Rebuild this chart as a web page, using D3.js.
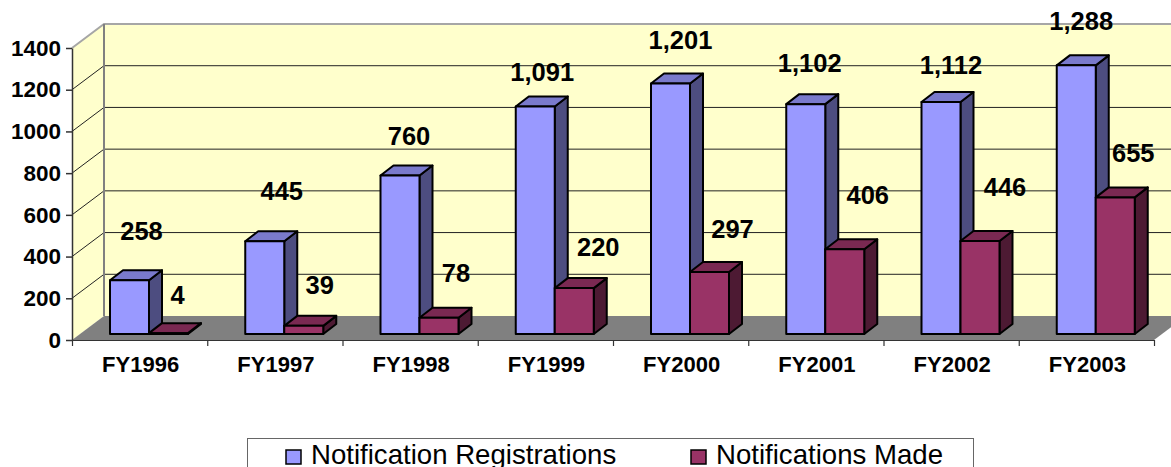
<!DOCTYPE html>
<html>
<head>
<meta charset="utf-8">
<script src="https://cdnjs.cloudflare.com/ajax/libs/d3/7.8.5/d3.min.js"></script>
<style>
  html, body { margin: 0; padding: 0; background: #fff; overflow: hidden; }
  text { font-family: "Liberation Sans", Arial, sans-serif; fill: #000; }
  .tick text, .valueLabel { font-weight: bold; }
</style>
</head>
<body>
<div id="chart"></div>
<script>
// chart values
var years = ["FY1996", "FY1997", "FY1998", "FY1999", "FY2000", "FY2001", "FY2002", "FY2003"];
var registrations = [258, 445, 760, 1091, 1201, 1102, 1112, 1288];
var notificationsMade = [4, 39, 78, 220, 297, 406, 446, 655];
var yTicks = [0, 200, 400, 600, 800, 1000, 1200, 1400];
var seriesNames = ["Notification Registrations", "Notifications Made"];

// hand placement of the value labels, [dx, dy] from the top of each bar
var registrationNudge = [[12, -49], [17, -50], [9, -39], [7, -34], [10, -43], [4, -41], [10, -37], [5, -44]];
var madeNudge = [[9, -38], [16, -41], [17, -45], [24, -41], [23, -43], [23, -54], [25, -54], [18, -44]];

var svgWidth = 1171;
var svgHeight = 467;

// front edge of the plot and how far the back wall is pushed away
var plot = { left: 72, right: 1154, top: 48, bottom: 340 };
var depth = { x: 32, y: -24 };
var barDepth = { x: 13, y: -10 };

var svg = d3.select("#chart")
  .append("svg")
  .attr("width", svgWidth)
  .attr("height", svgHeight)
  .style("display", "block");

var yScale = d3.scaleLinear().domain([0, 1400]).range([plot.bottom, plot.top]);
var xScale = d3.scaleBand().domain(years).range([plot.left, plot.right]);
var serieScale = d3.scaleBand().domain(seriesNames).range([38, 116]);

function pts(list) {
  return list.map(p => p.join(",")).join(" ");
}

// walls and floor
svg.append("polygon")
  .attr("points", pts([[plot.left, plot.top], [plot.left + depth.x, plot.top + depth.y],
    [plot.right + depth.x, plot.top + depth.y], [plot.right + depth.x, plot.bottom + depth.y],
    [plot.left + depth.x, plot.bottom + depth.y], [plot.left, plot.bottom]]))
  .attr("fill", "#ffffcc");

svg.append("polygon")
  .attr("points", pts([[plot.left, plot.bottom], [plot.right, plot.bottom],
    [plot.right + depth.x, plot.bottom + depth.y], [plot.left + depth.x, plot.bottom + depth.y]]))
  .attr("fill", "#808080");

// gridlines, along the side wall then across the back wall
yTicks.slice(1).forEach(function(t) {
  var y = yScale(t);
  var isTop = t === 1400;
  svg.append("polyline")
    .attr("points", pts([[plot.left, y], [plot.left + depth.x, y + depth.y], [plot.right + depth.x, y + depth.y]]))
    .attr("fill", "none")
    .attr("stroke", isTop ? "#a6a6a6" : "#222")
    .attr("stroke-width", isTop ? 2 : 1);
});

svg.append("line")
  .attr("x1", plot.left + depth.x).attr("x2", plot.left + depth.x)
  .attr("y1", plot.top + depth.y).attr("y2", plot.bottom + depth.y)
  .attr("stroke", "#808080")
  .attr("stroke-width", 2);

// 3d bars
function drawBar(g, x, w, value, front, top, side) {
  var y0 = yScale(0) - 6;
  var y1 = y0 - (yScale(0) - yScale(value));
  var dx = barDepth.x;
  var dy = barDepth.y;
  g.append("polygon")
    .attr("points", pts([[x + w, y1], [x + w + dx, y1 + dy], [x + w + dx, y0 + dy], [x + w, y0]]))
    .attr("fill", side);
  g.append("polygon")
    .attr("points", pts([[x, y1], [x + dx, y1 + dy], [x + w + dx, y1 + dy], [x + w, y1]]))
    .attr("fill", top);
  g.append("rect")
    .attr("x", x).attr("y", y1)
    .attr("width", w).attr("height", y0 - y1)
    .attr("fill", front);
  return y1;
}

var barsGroup = svg.append("g")
  .attr("stroke", "#000")
  .attr("stroke-width", 2)
  .attr("stroke-linejoin", "round");

var labelsGroup = svg.append("g");

years.forEach(function(year, i) {
  var band = xScale(year);
  var w = serieScale.bandwidth();
  var xBlue = band + serieScale(seriesNames[0]);
  var xRed = band + serieScale(seriesNames[1]);
  var topBlue = drawBar(barsGroup, xBlue, w, registrations[i], "#9999ff", "#7a7acc", "#4d4d80");
  var topRed = drawBar(barsGroup, xRed, w, notificationsMade[i], "#993366", "#7a2952", "#4d1a33");

  labelsGroup.append("text")
    .attr("class", "valueLabel")
    .attr("x", xBlue + w / 2 + registrationNudge[i][0])
    .attr("y", topBlue + registrationNudge[i][1])
    .attr("dy", "0.35em")
    .attr("text-anchor", "middle")
    .attr("font-size", "25.5px")
    .text(d3.format(",")(registrations[i]));

  labelsGroup.append("text")
    .attr("class", "valueLabel")
    .attr("x", xRed + w / 2 + madeNudge[i][0])
    .attr("y", topRed + madeNudge[i][1])
    .attr("dy", "0.35em")
    .attr("text-anchor", "middle")
    .attr("font-size", "25.5px")
    .text(d3.format(",")(notificationsMade[i]));
});

// axes
var leftAxis = d3.axisLeft(yScale).tickValues(yTicks).tickFormat(d3.format("d")).tickSize(6).tickPadding(5).tickSizeOuter(0);
var yAxis = svg.append("g")
  .attr("transform", `translate(${plot.left}, 0)`)
  .call(leftAxis);
yAxis.selectAll("text").attr("font-size", "22.5px").style("font-family", null);
yAxis.selectAll("line, path").attr("stroke", "#333").attr("stroke-width", 1.5);

// tick marks sit between the categories so they get their own scale
var edgeScale = d3.scaleLinear().domain([0, years.length]).range([plot.left, plot.right]);
var edgeAxis = d3.axisBottom(edgeScale).ticks(years.length).tickSize(6).tickSizeOuter(0).tickFormat("");
var xEdges = svg.append("g")
  .attr("transform", `translate(0, ${plot.bottom})`)
  .call(edgeAxis);
xEdges.selectAll("line, path").attr("stroke", "#333").attr("stroke-width", 1.2);

var bottomAxis = d3.axisBottom(xScale).tickSize(0).tickPadding(16);
var xAxis = svg.append("g")
  .attr("transform", `translate(1, ${plot.bottom})`)
  .call(bottomAxis);
xAxis.select(".domain").remove();
xAxis.selectAll("text").attr("font-size", "22px").style("font-family", null);

// legend, runs off the bottom of the picture
var legend = svg.append("g");
legend.append("rect")
  .attr("x", 247.5).attr("y", 438.5)
  .attr("width", 726).attr("height", 40)
  .attr("fill", "#fff")
  .attr("stroke", "#666")
  .attr("stroke-width", 1);

var legendX = d3.scaleOrdinal().domain(seriesNames).range([286, 691]);
var legendFill = d3.scaleOrdinal().domain(seriesNames).range(["#9999ff", "#993366"]);

seriesNames.forEach(function(name) {
  legend.append("rect")
    .attr("x", legendX(name)).attr("y", 450)
    .attr("width", 15).attr("height", 14)
    .attr("fill", legendFill(name))
    .attr("stroke", "#000")
    .attr("stroke-width", 1.5);
  legend.append("text")
    .attr("x", legendX(name) + 25)
    .attr("y", 464)
    .attr("font-size", "27.6px")
    .text(name);
});
</script>
</body>
</html>
